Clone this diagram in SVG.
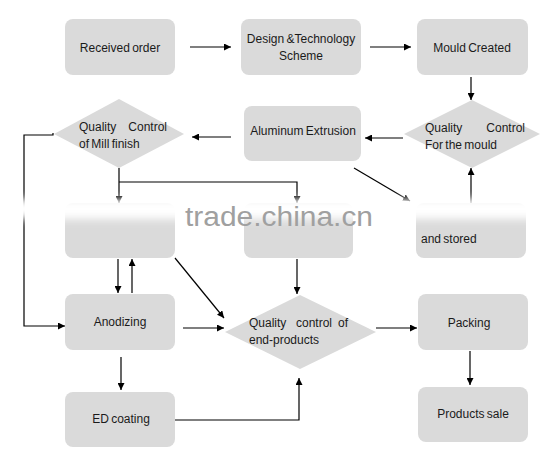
<svg xmlns="http://www.w3.org/2000/svg" width="558" height="455" viewBox="0 0 558 455">
<defs>
<style>
.box{fill:#dadada;}
.dia{fill:#dadada;}
.t{font-family:"Liberation Sans",Arial,sans-serif;font-size:12px;fill:#1a1a1a;word-spacing:-1px;}
.c{stroke:#000;stroke-width:1.2;fill:none;}
.wm{font-family:"Liberation Sans",Arial,sans-serif;font-size:27px;fill:#a0a0a0;}
</style>
<marker id="ah" viewBox="0 0 10 10" refX="10" refY="5" markerWidth="7" markerHeight="7" markerUnits="userSpaceOnUse" orient="auto">
<path d="M0,0 L10,5 L0,10 z" fill="#000"/>
</marker>
<filter id="blur" x="-0.1" y="-1" width="1.2" height="3">
<feGaussianBlur stdDeviation="4"/>
</filter>
</defs>
<rect width="558" height="455" fill="#fff"/>

<g id="received">
<rect class="box" x="65" y="19" width="110" height="56" rx="8"/>
<text class="t" x="120" y="52" text-anchor="middle">Received order</text>
</g>
<g id="design">
<rect class="box" x="241" y="19" width="120" height="56" rx="8"/>
<text class="t" x="301" y="43" text-anchor="middle">Design &amp;Technology</text>
<text class="t" x="301" y="60" text-anchor="middle">Scheme</text>
</g>
<g id="mould">
<rect class="box" x="417" y="19" width="111" height="56" rx="8"/>
<text class="t" x="472" y="52" text-anchor="middle">Mould Created</text>
</g>
<g id="qc-mould">
<polygon class="dia" points="404,134 472,100 540,134 472,168"/>
<text class="t" x="425" y="132">Quality</text>
<text class="t" x="525" y="132" text-anchor="end">Control</text>
<text class="t" x="425" y="149">For the mould</text>
</g>
<g id="extrusion">
<rect class="box" x="244" y="106" width="117" height="55" rx="8"/>
<text class="t" x="303" y="135" text-anchor="middle">Aluminum Extrusion</text>
</g>
<g id="qc-mill">
<polygon class="dia" points="54,134 119,99 184,134 119,168"/>
<text class="t" x="79" y="131">Quality</text>
<text class="t" x="167" y="131" text-anchor="end">Control</text>
<text class="t" x="79" y="148">of Mill finish</text>
</g>
<g id="box-left">
<rect class="box" x="65" y="203" width="110" height="55" rx="8"/>
</g>
<g id="box-mid">
<rect class="box" x="244" y="203" width="109" height="55" rx="8"/>
</g>
<g id="box-stored">
<rect class="box" x="416" y="203" width="110" height="55" rx="8"/>
<text class="t" x="421" y="243">and stored</text>
</g>
<g id="anodizing">
<rect class="box" x="65" y="294" width="110" height="56" rx="8"/>
<text class="t" x="120" y="326" text-anchor="middle">Anodizing</text>
</g>
<g id="qc-end">
<polygon class="dia" points="225,332 300,295 376,332 300,369"/>
<text class="t" x="249" y="327">Quality</text>
<text class="t" x="296" y="327">control</text>
<text class="t" x="348" y="327" text-anchor="end">of</text>
<text class="t" x="249" y="344">end-products</text>
</g>
<g id="packing">
<rect class="box" x="418" y="294" width="110" height="56" rx="8"/>
<text class="t" x="469" y="327" text-anchor="middle">Packing</text>
</g>
<g id="ed">
<rect class="box" x="65" y="392" width="110" height="55" rx="8"/>
<text class="t" x="121" y="423" text-anchor="middle">ED coating</text>
</g>
<g id="sale">
<rect class="box" x="418" y="387" width="110" height="55" rx="8"/>
<text class="t" x="473" y="418" text-anchor="middle">Products sale</text>
</g>

<g id="connectors">
<line class="c" x1="190" y1="47" x2="231" y2="47" marker-end="url(#ah)"/>
<line class="c" x1="370" y1="47" x2="411" y2="47" marker-end="url(#ah)"/>
<line class="c" x1="471" y1="77" x2="471" y2="100" marker-end="url(#ah)"/>
<line class="c" x1="403" y1="138" x2="365" y2="138" marker-end="url(#ah)"/>
<line class="c" x1="231" y1="137" x2="192" y2="137" marker-end="url(#ah)"/>
<polyline class="c" points="53,133 53,135 24,135 24,326 65,326" marker-end="url(#ah)"/>
<line class="c" x1="119" y1="168" x2="119" y2="203" marker-end="url(#ah)"/>
<polyline class="c" points="119,182 297,182 297,203" marker-end="url(#ah)"/>
<line class="c" x1="354" y1="168" x2="410" y2="201" marker-end="url(#ah)"/>
<line class="c" x1="471" y1="203" x2="471" y2="168" marker-end="url(#ah)"/>
<line class="c" x1="118" y1="259" x2="118" y2="293" marker-end="url(#ah)"/>
<line class="c" x1="132" y1="293" x2="132" y2="259" marker-end="url(#ah)"/>
<line class="c" x1="175" y1="258" x2="224" y2="318" marker-end="url(#ah)"/>
<line class="c" x1="297" y1="259" x2="297" y2="294" marker-end="url(#ah)"/>
<line class="c" x1="183" y1="328" x2="224" y2="328" marker-end="url(#ah)"/>
<line class="c" x1="121" y1="357" x2="121" y2="390" marker-end="url(#ah)"/>
<polyline class="c" points="175,420 299,420 299,378" marker-end="url(#ah)"/>
<line class="c" x1="376" y1="328" x2="417" y2="328" marker-end="url(#ah)"/>
<line class="c" x1="470" y1="351" x2="470" y2="385" marker-end="url(#ah)"/>
</g>

<rect x="-20" y="199" width="600" height="20" fill="#fff" filter="url(#blur)"/>
<text class="wm" x="185" y="226" textLength="188" lengthAdjust="spacingAndGlyphs">trade.china.cn</text>
</svg>
